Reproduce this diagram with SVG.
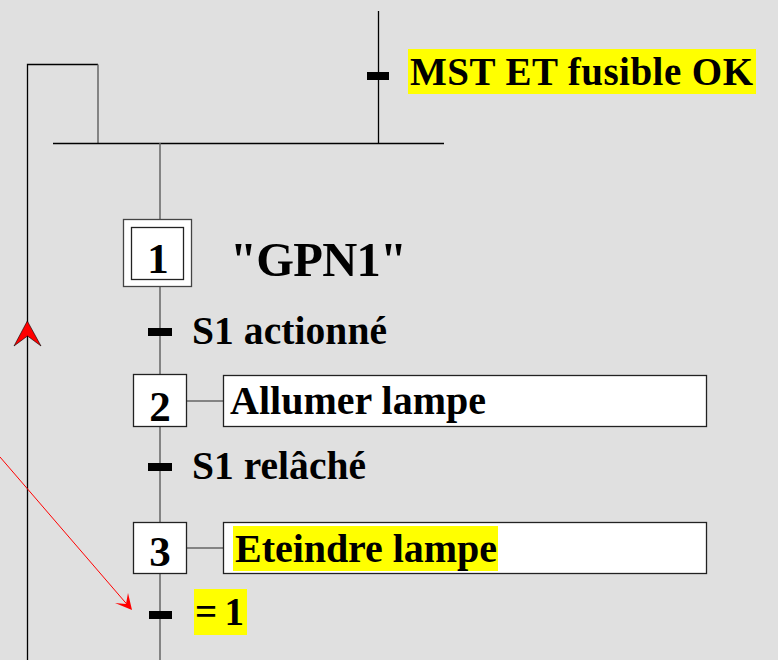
<svg xmlns="http://www.w3.org/2000/svg" width="778" height="660" viewBox="0 0 778 660">
<style>
.t{font-family:"Liberation Serif","Times New Roman",serif;font-weight:bold;fill:#000}
.ln{stroke:#000;stroke-width:1.3;fill:none}
.gl{stroke:#666;stroke-width:1.5;fill:none}
.box{fill:#fff;stroke:#222;stroke-width:1.3}
.bar{fill:#000}
.hl{fill:#ffff00}
</style>
<rect x="0" y="0" width="778" height="660" fill="#e0e0e0"/>
<g id="connectors">
  <polyline class="ln" points="27.5,660 27.5,64.5 98,64.5"/>
  <line class="gl" x1="98" y1="64.5" x2="98" y2="143"/>
  <line class="ln" x1="53" y1="143.5" x2="444" y2="143.5"/>
  <line class="ln" x1="378.5" y1="11" x2="378.5" y2="143"/>
  <line class="gl" x1="160" y1="143" x2="160" y2="660"/>
  <line class="gl" x1="187" y1="401" x2="223" y2="401"/>
  <line class="gl" x1="187" y1="548" x2="223" y2="548"/>
  <polygon points="27.3,321 41,346 27.5,336 14,346" fill="#ff0000" stroke="#000" stroke-width="0.6"/>
  <line x1="0" y1="457" x2="131" y2="609" stroke="#ff0000" stroke-width="1"/>
  <polygon points="132,610 115,603 126,604 128,593" fill="#ff0000"/>
</g>
<g id="t0">
  <rect class="bar" x="367" y="72" width="22" height="8"/>
  <rect class="hl" x="408" y="49" width="348" height="45"/>
  <text class="t" x="410" y="85" font-size="39" textLength="343">MST ET fusible OK</text>
</g>
<g id="step1">
  <rect x="123.5" y="219.5" width="68" height="67" fill="#fff" stroke="#444" stroke-width="1.3"/>
  <rect x="131.5" y="227.5" width="52" height="52" fill="#fff" stroke="#222" stroke-width="1.3"/>
  <text class="t" x="158" y="273" font-size="43" text-anchor="middle">1</text>
  <text class="t" x="230" y="276" font-size="48.5" textLength="177">"GPN1"</text>
</g>
<g id="t1">
  <rect class="bar" x="148" y="328" width="24" height="8"/>
  <text class="t" x="192" y="344" font-size="39.5" textLength="195">S1 actionné</text>
</g>
<g id="step2">
  <rect class="box" x="133.5" y="374.5" width="53" height="52"/>
  <text class="t" x="160" y="421" font-size="43" text-anchor="middle">2</text>
</g>
<g id="action2">
  <rect class="box" x="223.5" y="375.5" width="483" height="51"/>
  <text class="t" x="230" y="414" font-size="40" textLength="256">Allumer lampe</text>
</g>
<g id="t2">
  <rect class="bar" x="148" y="463" width="24" height="8"/>
  <text class="t" x="192" y="479" font-size="39.5" textLength="174">S1 relâché</text>
</g>
<g id="step3">
  <rect class="box" x="133.5" y="522.5" width="53" height="51"/>
  <text class="t" x="160" y="566" font-size="43" text-anchor="middle">3</text>
</g>
<g id="action3">
  <rect class="box" x="223.5" y="522.5" width="483" height="51"/>
  <rect class="hl" x="233" y="526" width="265" height="45"/>
  <text class="t" x="235" y="562" font-size="40" textLength="262">Eteindre lampe</text>
</g>
<g id="t3">
  <rect class="bar" x="149" y="611" width="23" height="8"/>
  <rect class="hl" x="194" y="589" width="53" height="46"/>
  <text class="t" x="195" y="625" font-size="39" textLength="49">= 1</text>
</g>
</svg>
